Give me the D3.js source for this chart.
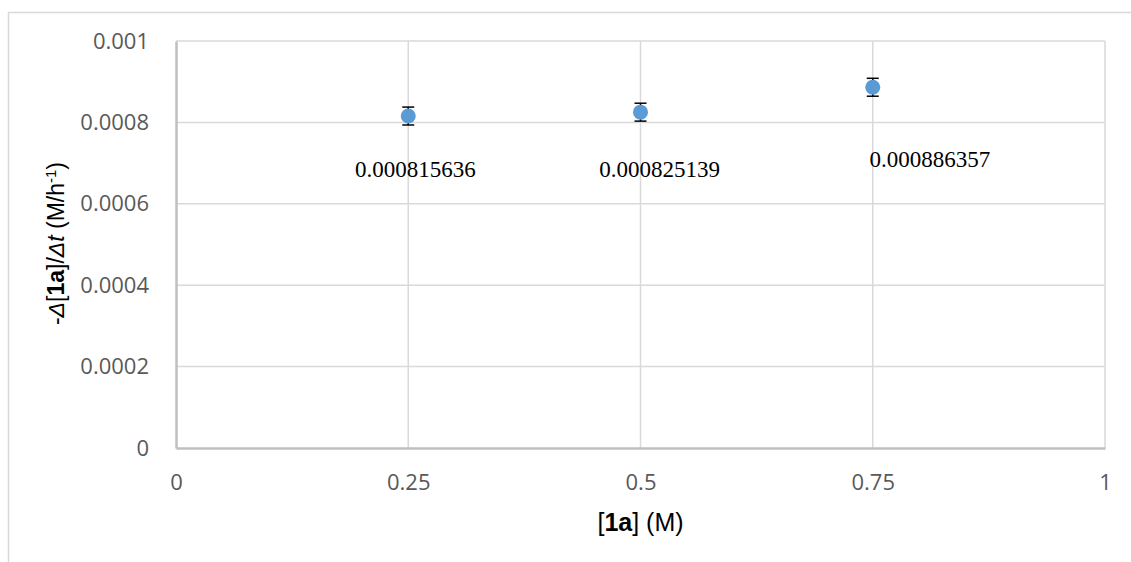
<!DOCTYPE html>
<html>
<head>
<meta charset="utf-8">
<script src="https://cdn.jsdelivr.net/npm/d3@7"></script>
<style>
  html, body { margin: 0; padding: 0; background: #fff; }
  svg { display: block; }
</style>
</head>
<body>
<svg id="chart" width="1131" height="562"></svg>
<script>
// Rate of consumption of 1a versus its initial concentration
const concentrations = [0.25, 0.5, 0.75];
const rates = [0.000815636, 0.000825139, 0.000886357];
const rateErrors = [0.000022, 0.000022, 0.000022];
const rateLabels = ["0.000815636", "0.000825139", "0.000886357"];
const xTicks = [0, 0.25, 0.5, 0.75, 1];
const xTickLabels = ["0", "0.25", "0.5", "0.75", "1"];
const yTicks = [0, 0.0002, 0.0004, 0.0006, 0.0008, 0.001];
const yTickLabels = ["0", "0.0002", "0.0004", "0.0006", "0.0008", "0.001"];

// Hand-placed data label offsets (dx, dy) from each marker
const labelOffsets = [[7, 61], [19, 65], [57, 80]];

const svg = d3.select("#chart");
const plot = { left: 176, right: 1105, top: 41, bottom: 448 };

const x = d3.scaleLinear().domain([0, 1]).range([plot.left, plot.right]);
const y = d3.scaleLinear().domain([0, 0.001]).range([plot.bottom, plot.top]);

// Outer chart frame (continues past the bottom and right edges)
svg.append("path")
  .attr("d", "M8.5,600 L8.5,12.5 L1200,12.5")
  .attr("fill", "none")
  .attr("stroke", "#d9d9d9")
  .attr("stroke-width", 1.5);

// Gridlines
svg.append("g")
  .selectAll("line")
  .data(yTicks.filter(d => d > 0))
  .join("line")
  .attr("x1", plot.left).attr("x2", plot.right)
  .attr("y1", d => y(d)).attr("y2", d => y(d))
  .attr("stroke", "#d9d9d9").attr("stroke-width", 1.5);

svg.append("g")
  .selectAll("line")
  .data(xTicks.filter(d => d > 0))
  .join("line")
  .attr("x1", d => x(d)).attr("x2", d => x(d))
  .attr("y1", plot.top).attr("y2", plot.bottom)
  .attr("stroke", "#d9d9d9").attr("stroke-width", 1.5);

// Axes
const tickFont = "'Open Sans', 'Noto Sans', sans-serif";

const xAxis = svg.append("g")
  .attr("transform", `translate(0,${plot.bottom})`)
  .call(d3.axisBottom(x).tickValues(xTicks).tickSize(0).tickPadding(26)
    .tickFormat((d, i) => xTickLabels[i]));
xAxis.select(".domain").attr("stroke", "#bfbfbf").attr("stroke-width", 2.5);
xAxis.selectAll("text")
  .attr("font-family", tickFont).attr("font-size", 22)
  .attr("fill", "#595959");

const yAxis = svg.append("g")
  .attr("transform", `translate(${plot.left},0)`)
  .call(d3.axisLeft(y).tickValues(yTicks).tickSize(0).tickPadding(27)
    .tickFormat((d, i) => yTickLabels[i]));
yAxis.select(".domain").attr("stroke", "#bfbfbf").attr("stroke-width", 2.5);
yAxis.selectAll("text")
  .attr("font-family", tickFont).attr("font-size", 22)
  .attr("fill", "#595959");

// Axis titles
const titleFont = "'Liberation Sans', Arial, sans-serif";

const xTitle = svg.append("text")
  .attr("x", (plot.left + plot.right) / 2)
  .attr("y", 531)
  .attr("text-anchor", "middle")
  .attr("font-family", titleFont)
  .attr("font-size", 25)
  .attr("fill", "#000");
xTitle.append("tspan").text("[");
xTitle.append("tspan").attr("font-weight", "bold").text("1a");
xTitle.append("tspan").text("] (M)");

const yTitle = svg.append("text")
  .attr("transform", `translate(64,${(plot.top + plot.bottom) / 2 - 1}) rotate(-90)`)
  .attr("text-anchor", "middle")
  .attr("font-family", titleFont)
  .attr("font-size", 23)
  .attr("fill", "#000");
yTitle.append("tspan").text("-");
yTitle.append("tspan").attr("font-style", "italic").text("Δ");
yTitle.append("tspan").text("[");
yTitle.append("tspan").attr("font-weight", "bold").text("1a");
yTitle.append("tspan").text("]/");
yTitle.append("tspan").attr("font-style", "italic").text("Δt");
yTitle.append("tspan").text(" (M/h");
yTitle.append("tspan").attr("font-size", 15).attr("dy", -8).text("-1");
yTitle.append("tspan").attr("dy", 8).text(")");

// Data
const points = concentrations.map((c, i) => ({
  c, r: rates[i], e: rateErrors[i], label: rateLabels[i], off: labelOffsets[i]
}));

// Error bars
const eb = svg.append("g").selectAll("g").data(points).join("g");
eb.append("line")
  .attr("x1", d => x(d.c)).attr("x2", d => x(d.c))
  .attr("y1", d => y(d.r + d.e)).attr("y2", d => y(d.r - d.e))
  .attr("stroke", "#000").attr("stroke-width", 1.5);
eb.append("line")
  .attr("x1", d => x(d.c) - 6).attr("x2", d => x(d.c) + 6)
  .attr("y1", d => y(d.r + d.e)).attr("y2", d => y(d.r + d.e))
  .attr("stroke", "#000").attr("stroke-width", 1.5);
eb.append("line")
  .attr("x1", d => x(d.c) - 6).attr("x2", d => x(d.c) + 6)
  .attr("y1", d => y(d.r - d.e)).attr("y2", d => y(d.r - d.e))
  .attr("stroke", "#000").attr("stroke-width", 1.5);

// Markers
svg.append("g").selectAll("circle").data(points).join("circle")
  .attr("cx", d => x(d.c)).attr("cy", d => y(d.r))
  .attr("r", 7.5)
  .attr("fill", "#5b9bd5");

// Data labels
svg.append("g").selectAll("text").data(points).join("text")
  .attr("x", d => x(d.c) + d.off[0])
  .attr("y", d => y(d.r) + d.off[1])
  .attr("text-anchor", "middle")
  .attr("font-family", "'Liberation Serif', 'Times New Roman', serif")
  .attr("font-size", 23)
  .attr("fill", "#000")
  .text(d => d.label);
</script>
</body>
</html>
